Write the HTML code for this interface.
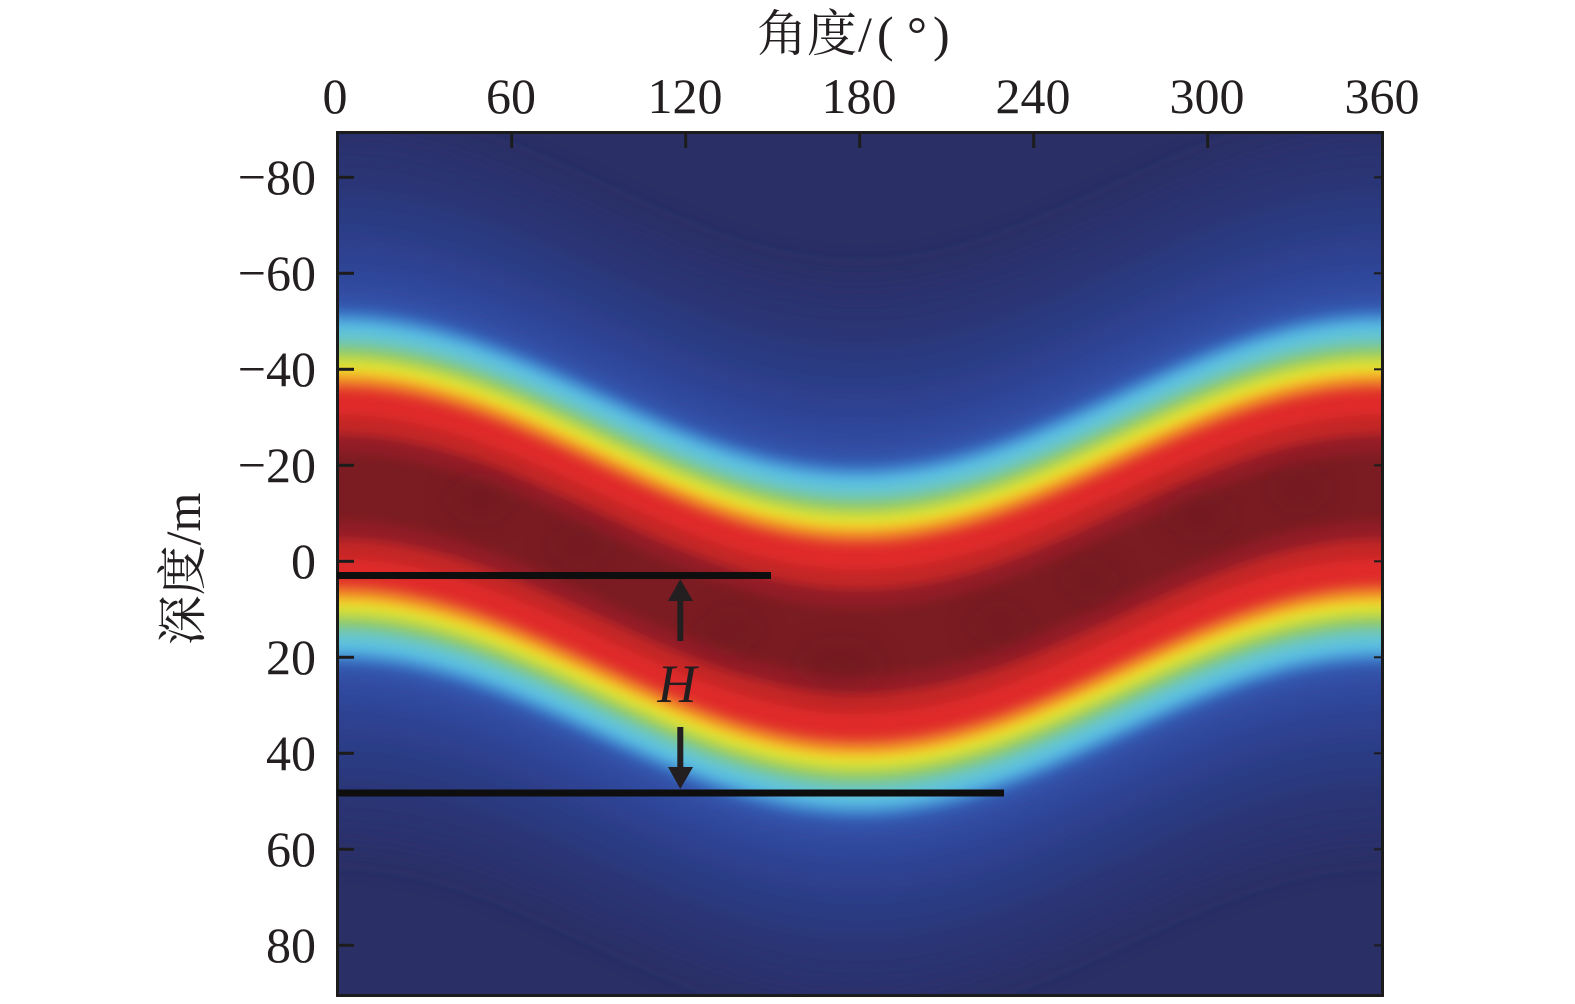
<!DOCTYPE html>
<html>
<head>
<meta charset="utf-8">
<style>
html,body{margin:0;padding:0;background:#fff;width:1575px;height:1004px;overflow:hidden;}
svg{display:block}
</style>
</head>
<body>
<svg width="1575" height="1004" viewBox="0 0 1575 1004" xmlns="http://www.w3.org/2000/svg">
<defs>
<clipPath id="cp"><rect x="338" y="133" width="1044" height="863"/></clipPath>
<filter id="bl" filterUnits="userSpaceOnUse" x="0" y="0" width="1575" height="1004"><feGaussianBlur stdDeviation="5"/></filter>
<filter id="blA" filterUnits="userSpaceOnUse" x="0" y="0" width="1575" height="1004"><feGaussianBlur stdDeviation="20"/></filter>
<filter id="bl2" filterUnits="userSpaceOnUse" x="0" y="0" width="1575" height="1004"><feGaussianBlur stdDeviation="15"/></filter>
</defs>
<rect x="0" y="0" width="1575" height="1004" fill="#ffffff"/>
<g clip-path="url(#cp)">
<rect x="338" y="133" width="1044" height="863" fill="#2a2f65"/>
<g filter="url(#blA)">
<path fill="#2b326f" d="M76,209 c85.12,-39.6 166.54,-77.3 261,-77.3 c94.46,0 175.88,37.7 261,77.3 c85.12,39.6 166.54,77.3 261,77.3 c94.46,0 175.88,-37.7 261,-77.3 c85.12,-39.6 166.54,-77.3 261,-77.3 c47.23,0 91.2,9.425 134,23.8 v710.4 c-42.8,-14.375 -86.77,-23.8 -134,-23.8 c-94.46,0 -175.88,37.7 -261,77.3 c-85.12,39.6 -166.54,77.3 -261,77.3 c-94.46,0 -175.88,-37.7 -261,-77.3 c-85.12,-39.6 -166.54,-77.3 -261,-77.3 c-94.46,0 -175.88,37.7 -261,77.3 Z"/>
<path fill="#2b3576" d="M76,237.8 c85.12,-39.6 166.54,-77.3 261,-77.3 c94.46,0 175.88,37.7 261,77.3 c85.12,39.6 166.54,77.3 261,77.3 c94.46,0 175.88,-37.7 261,-77.3 c85.12,-39.6 166.54,-77.3 261,-77.3 c47.23,0 91.2,9.425 134,23.8 v652.8 c-42.8,-14.375 -86.77,-23.8 -134,-23.8 c-94.46,0 -175.88,37.7 -261,77.3 c-85.12,39.6 -166.54,77.3 -261,77.3 c-94.46,0 -175.88,-37.7 -261,-77.3 c-85.12,-39.6 -166.54,-77.3 -261,-77.3 c-94.46,0 -175.88,37.7 -261,77.3 Z"/>
<path fill="#2c3a82" d="M76,276.2 c85.12,-39.6 166.54,-77.3 261,-77.3 c94.46,0 175.88,37.7 261,77.3 c85.12,39.6 166.54,77.3 261,77.3 c94.46,0 175.88,-37.7 261,-77.3 c85.12,-39.6 166.54,-77.3 261,-77.3 c47.23,0 91.2,9.425 134,23.8 v576 c-42.8,-14.375 -86.77,-23.8 -134,-23.8 c-94.46,0 -175.88,37.7 -261,77.3 c-85.12,39.6 -166.54,77.3 -261,77.3 c-94.46,0 -175.88,-37.7 -261,-77.3 c-85.12,-39.6 -166.54,-77.3 -261,-77.3 c-94.46,0 -175.88,37.7 -261,77.3 Z"/>
<path fill="#2d3f8e" d="M76,309.8 c85.12,-39.6 166.54,-77.3 261,-77.3 c94.46,0 175.88,37.7 261,77.3 c85.12,39.6 166.54,77.3 261,77.3 c94.46,0 175.88,-37.7 261,-77.3 c85.12,-39.6 166.54,-77.3 261,-77.3 c47.23,0 91.2,9.425 134,23.8 v508.8 c-42.8,-14.375 -86.77,-23.8 -134,-23.8 c-94.46,0 -175.88,37.7 -261,77.3 c-85.12,39.6 -166.54,77.3 -261,77.3 c-94.46,0 -175.88,-37.7 -261,-77.3 c-85.12,-39.6 -166.54,-77.3 -261,-77.3 c-94.46,0 -175.88,37.7 -261,77.3 Z"/>
<path fill="#2e4598" d="M76,338.6 c85.12,-39.6 166.54,-77.3 261,-77.3 c94.46,0 175.88,37.7 261,77.3 c85.12,39.6 166.54,77.3 261,77.3 c94.46,0 175.88,-37.7 261,-77.3 c85.12,-39.6 166.54,-77.3 261,-77.3 c47.23,0 91.2,9.425 134,23.8 v451.2 c-42.8,-14.375 -86.77,-23.8 -134,-23.8 c-94.46,0 -175.88,37.7 -261,77.3 c-85.12,39.6 -166.54,77.3 -261,77.3 c-94.46,0 -175.88,-37.7 -261,-77.3 c-85.12,-39.6 -166.54,-77.3 -261,-77.3 c-94.46,0 -175.88,37.7 -261,77.3 Z"/>
<path fill="#304ca2" d="M76,362.6 c85.12,-39.6 166.54,-77.3 261,-77.3 c94.46,0 175.88,37.7 261,77.3 c85.12,39.6 166.54,77.3 261,77.3 c94.46,0 175.88,-37.7 261,-77.3 c85.12,-39.6 166.54,-77.3 261,-77.3 c47.23,0 91.2,9.425 134,23.8 v403.2 c-42.8,-14.375 -86.77,-23.8 -134,-23.8 c-94.46,0 -175.88,37.7 -261,77.3 c-85.12,39.6 -166.54,77.3 -261,77.3 c-94.46,0 -175.88,-37.7 -261,-77.3 c-85.12,-39.6 -166.54,-77.3 -261,-77.3 c-94.46,0 -175.88,37.7 -261,77.3 Z"/>
<path fill="#3356ae" d="M76,377 c85.12,-39.6 166.54,-77.3 261,-77.3 c94.46,0 175.88,37.7 261,77.3 c85.12,39.6 166.54,77.3 261,77.3 c94.46,0 175.88,-37.7 261,-77.3 c85.12,-39.6 166.54,-77.3 261,-77.3 c47.23,0 91.2,9.425 134,23.8 v374.4 c-42.8,-14.375 -86.77,-23.8 -134,-23.8 c-94.46,0 -175.88,37.7 -261,77.3 c-85.12,39.6 -166.54,77.3 -261,77.3 c-94.46,0 -175.88,-37.7 -261,-77.3 c-85.12,-39.6 -166.54,-77.3 -261,-77.3 c-94.46,0 -175.88,37.7 -261,77.3 Z"/>
</g>
<g filter="url(#bl)">
<path fill="#3356ae" opacity="0.6" d="M76,377 c85.12,-39.6 166.54,-77.3 261,-77.3 c94.46,0 175.88,37.7 261,77.3 c85.12,39.6 166.54,77.3 261,77.3 c94.46,0 175.88,-37.7 261,-77.3 c85.12,-39.6 166.54,-77.3 261,-77.3 c47.23,0 91.2,9.425 134,23.8 v374.4 c-42.8,-14.375 -86.77,-23.8 -134,-23.8 c-94.46,0 -175.88,37.7 -261,77.3 c-85.12,39.6 -166.54,77.3 -261,77.3 c-94.46,0 -175.88,-37.7 -261,-77.3 c-85.12,-39.6 -166.54,-77.3 -261,-77.3 c-94.46,0 -175.88,37.7 -261,77.3 Z"/>
<path fill="#3a72c4" d="M76,386.6 c85.12,-39.6 166.54,-77.3 261,-77.3 c94.46,0 175.88,37.7 261,77.3 c85.12,39.6 166.54,77.3 261,77.3 c94.46,0 175.88,-37.7 261,-77.3 c85.12,-39.6 166.54,-77.3 261,-77.3 c47.23,0 91.2,9.425 134,23.8 v355.2 c-42.8,-14.375 -86.77,-23.8 -134,-23.8 c-94.46,0 -175.88,37.7 -261,77.3 c-85.12,39.6 -166.54,77.3 -261,77.3 c-94.46,0 -175.88,-37.7 -261,-77.3 c-85.12,-39.6 -166.54,-77.3 -261,-77.3 c-94.46,0 -175.88,37.7 -261,77.3 Z"/>
<path fill="#4a9ad8" d="M76,393.8 c85.12,-39.6 166.54,-77.3 261,-77.3 c94.46,0 175.88,37.7 261,77.3 c85.12,39.6 166.54,77.3 261,77.3 c94.46,0 175.88,-37.7 261,-77.3 c85.12,-39.6 166.54,-77.3 261,-77.3 c47.23,0 91.2,9.425 134,23.8 v340.8 c-42.8,-14.375 -86.77,-23.8 -134,-23.8 c-94.46,0 -175.88,37.7 -261,77.3 c-85.12,39.6 -166.54,77.3 -261,77.3 c-94.46,0 -175.88,-37.7 -261,-77.3 c-85.12,-39.6 -166.54,-77.3 -261,-77.3 c-94.46,0 -175.88,37.7 -261,77.3 Z"/>
<path fill="#5cc0e2" d="M76,401 c85.12,-39.6 166.54,-77.3 261,-77.3 c94.46,0 175.88,37.7 261,77.3 c85.12,39.6 166.54,77.3 261,77.3 c94.46,0 175.88,-37.7 261,-77.3 c85.12,-39.6 166.54,-77.3 261,-77.3 c47.23,0 91.2,9.425 134,23.8 v326.4 c-42.8,-14.375 -86.77,-23.8 -134,-23.8 c-94.46,0 -175.88,37.7 -261,77.3 c-85.12,39.6 -166.54,77.3 -261,77.3 c-94.46,0 -175.88,-37.7 -261,-77.3 c-85.12,-39.6 -166.54,-77.3 -261,-77.3 c-94.46,0 -175.88,37.7 -261,77.3 Z"/>
<path fill="#68c6c8" d="M76,410.6 c85.12,-39.6 166.54,-77.3 261,-77.3 c94.46,0 175.88,37.7 261,77.3 c85.12,39.6 166.54,77.3 261,77.3 c94.46,0 175.88,-37.7 261,-77.3 c85.12,-39.6 166.54,-77.3 261,-77.3 c47.23,0 91.2,9.425 134,23.8 v307.2 c-42.8,-14.375 -86.77,-23.8 -134,-23.8 c-94.46,0 -175.88,37.7 -261,77.3 c-85.12,39.6 -166.54,77.3 -261,77.3 c-94.46,0 -175.88,-37.7 -261,-77.3 c-85.12,-39.6 -166.54,-77.3 -261,-77.3 c-94.46,0 -175.88,37.7 -261,77.3 Z"/>
<path fill="#7cc88a" d="M76,420.2 c85.12,-39.6 166.54,-77.3 261,-77.3 c94.46,0 175.88,37.7 261,77.3 c85.12,39.6 166.54,77.3 261,77.3 c94.46,0 175.88,-37.7 261,-77.3 c85.12,-39.6 166.54,-77.3 261,-77.3 c47.23,0 91.2,9.425 134,23.8 v288 c-42.8,-14.375 -86.77,-23.8 -134,-23.8 c-94.46,0 -175.88,37.7 -261,77.3 c-85.12,39.6 -166.54,77.3 -261,77.3 c-94.46,0 -175.88,-37.7 -261,-77.3 c-85.12,-39.6 -166.54,-77.3 -261,-77.3 c-94.46,0 -175.88,37.7 -261,77.3 Z"/>
<path fill="#9acc5c" d="M76,427.4 c85.12,-39.6 166.54,-77.3 261,-77.3 c94.46,0 175.88,37.7 261,77.3 c85.12,39.6 166.54,77.3 261,77.3 c94.46,0 175.88,-37.7 261,-77.3 c85.12,-39.6 166.54,-77.3 261,-77.3 c47.23,0 91.2,9.425 134,23.8 v273.6 c-42.8,-14.375 -86.77,-23.8 -134,-23.8 c-94.46,0 -175.88,37.7 -261,77.3 c-85.12,39.6 -166.54,77.3 -261,77.3 c-94.46,0 -175.88,-37.7 -261,-77.3 c-85.12,-39.6 -166.54,-77.3 -261,-77.3 c-94.46,0 -175.88,37.7 -261,77.3 Z"/>
<path fill="#c8dc3c" d="M76,434.6 c85.12,-39.6 166.54,-77.3 261,-77.3 c94.46,0 175.88,37.7 261,77.3 c85.12,39.6 166.54,77.3 261,77.3 c94.46,0 175.88,-37.7 261,-77.3 c85.12,-39.6 166.54,-77.3 261,-77.3 c47.23,0 91.2,9.425 134,23.8 v259.2 c-42.8,-14.375 -86.77,-23.8 -134,-23.8 c-94.46,0 -175.88,37.7 -261,77.3 c-85.12,39.6 -166.54,77.3 -261,77.3 c-94.46,0 -175.88,-37.7 -261,-77.3 c-85.12,-39.6 -166.54,-77.3 -261,-77.3 c-94.46,0 -175.88,37.7 -261,77.3 Z"/>
<path fill="#e8e42c" d="M76,441.8 c85.12,-39.6 166.54,-77.3 261,-77.3 c94.46,0 175.88,37.7 261,77.3 c85.12,39.6 166.54,77.3 261,77.3 c94.46,0 175.88,-37.7 261,-77.3 c85.12,-39.6 166.54,-77.3 261,-77.3 c47.23,0 91.2,9.425 134,23.8 v244.8 c-42.8,-14.375 -86.77,-23.8 -134,-23.8 c-94.46,0 -175.88,37.7 -261,77.3 c-85.12,39.6 -166.54,77.3 -261,77.3 c-94.46,0 -175.88,-37.7 -261,-77.3 c-85.12,-39.6 -166.54,-77.3 -261,-77.3 c-94.46,0 -175.88,37.7 -261,77.3 Z"/>
<path fill="#f4bc2a" d="M76,448 c85.12,-39.6 166.54,-77.3 261,-77.3 c94.46,0 175.88,37.7 261,77.3 c85.12,39.6 166.54,77.3 261,77.3 c94.46,0 175.88,-37.7 261,-77.3 c85.12,-39.6 166.54,-77.3 261,-77.3 c47.23,0 91.2,9.425 134,23.8 v232.4 c-42.8,-14.375 -86.77,-23.8 -134,-23.8 c-94.46,0 -175.88,37.7 -261,77.3 c-85.12,39.6 -166.54,77.3 -261,77.3 c-94.46,0 -175.88,-37.7 -261,-77.3 c-85.12,-39.6 -166.54,-77.3 -261,-77.3 c-94.46,0 -175.88,37.7 -261,77.3 Z"/>
<path fill="#f08a28" d="M76,453.8 c85.12,-39.6 166.54,-77.3 261,-77.3 c94.46,0 175.88,37.7 261,77.3 c85.12,39.6 166.54,77.3 261,77.3 c94.46,0 175.88,-37.7 261,-77.3 c85.12,-39.6 166.54,-77.3 261,-77.3 c47.23,0 91.2,9.425 134,23.8 v220.8 c-42.8,-14.375 -86.77,-23.8 -134,-23.8 c-94.46,0 -175.88,37.7 -261,77.3 c-85.12,39.6 -166.54,77.3 -261,77.3 c-94.46,0 -175.88,-37.7 -261,-77.3 c-85.12,-39.6 -166.54,-77.3 -261,-77.3 c-94.46,0 -175.88,37.7 -261,77.3 Z"/>
<path fill="#e6482a" d="M76,461 c85.12,-39.6 166.54,-77.3 261,-77.3 c94.46,0 175.88,37.7 261,77.3 c85.12,39.6 166.54,77.3 261,77.3 c94.46,0 175.88,-37.7 261,-77.3 c85.12,-39.6 166.54,-77.3 261,-77.3 c47.23,0 91.2,9.425 134,23.8 v206.4 c-42.8,-14.375 -86.77,-23.8 -134,-23.8 c-94.46,0 -175.88,37.7 -261,77.3 c-85.12,39.6 -166.54,77.3 -261,77.3 c-94.46,0 -175.88,-37.7 -261,-77.3 c-85.12,-39.6 -166.54,-77.3 -261,-77.3 c-94.46,0 -175.88,37.7 -261,77.3 Z"/>
<path fill="#e02a2a" d="M76,468.2 c85.12,-39.6 166.54,-77.3 261,-77.3 c94.46,0 175.88,37.7 261,77.3 c85.12,39.6 166.54,77.3 261,77.3 c94.46,0 175.88,-37.7 261,-77.3 c85.12,-39.6 166.54,-77.3 261,-77.3 c47.23,0 91.2,9.425 134,23.8 v192 c-42.8,-14.375 -86.77,-23.8 -134,-23.8 c-94.46,0 -175.88,37.7 -261,77.3 c-85.12,39.6 -166.54,77.3 -261,77.3 c-94.46,0 -175.88,-37.7 -261,-77.3 c-85.12,-39.6 -166.54,-77.3 -261,-77.3 c-94.46,0 -175.88,37.7 -261,77.3 Z"/>
<path fill="#c42528" d="M76,492.2 c85.12,-39.6 166.54,-77.3 261,-77.3 c94.46,0 175.88,37.7 261,77.3 c85.12,39.6 166.54,77.3 261,77.3 c94.46,0 175.88,-37.7 261,-77.3 c85.12,-39.6 166.54,-77.3 261,-77.3 c47.23,0 91.2,9.425 134,23.8 v144 c-42.8,-14.375 -86.77,-23.8 -134,-23.8 c-94.46,0 -175.88,37.7 -261,77.3 c-85.12,39.6 -166.54,77.3 -261,77.3 c-94.46,0 -175.88,-37.7 -261,-77.3 c-85.12,-39.6 -166.54,-77.3 -261,-77.3 c-94.46,0 -175.88,37.7 -261,77.3 Z"/>
<path fill="#921f26" d="M76,511.4 c85.12,-39.6 166.54,-77.3 261,-77.3 c94.46,0 175.88,37.7 261,77.3 c85.12,39.6 166.54,77.3 261,77.3 c94.46,0 175.88,-37.7 261,-77.3 c85.12,-39.6 166.54,-77.3 261,-77.3 c47.23,0 91.2,9.425 134,23.8 v105.6 c-42.8,-14.375 -86.77,-23.8 -134,-23.8 c-94.46,0 -175.88,37.7 -261,77.3 c-85.12,39.6 -166.54,77.3 -261,77.3 c-94.46,0 -175.88,-37.7 -261,-77.3 c-85.12,-39.6 -166.54,-77.3 -261,-77.3 c-94.46,0 -175.88,37.7 -261,77.3 Z"/>
<path fill="#7a1b23" d="M76,530.6 c85.12,-39.6 166.54,-77.3 261,-77.3 c94.46,0 175.88,37.7 261,77.3 c85.12,39.6 166.54,77.3 261,77.3 c94.46,0 175.88,-37.7 261,-77.3 c85.12,-39.6 166.54,-77.3 261,-77.3 c47.23,0 91.2,9.425 134,23.8 v67.2 c-42.8,-14.375 -86.77,-23.8 -134,-23.8 c-94.46,0 -175.88,37.7 -261,77.3 c-85.12,39.6 -166.54,77.3 -261,77.3 c-94.46,0 -175.88,-37.7 -261,-77.3 c-85.12,-39.6 -166.54,-77.3 -261,-77.3 c-94.46,0 -175.88,37.7 -261,77.3 Z"/>
</g>
<g filter="url(#bl2)" fill="#66141c" opacity="0.35">
<ellipse cx="480" cy="500" rx="30" ry="18"/>
<ellipse cx="580" cy="545" rx="28" ry="16"/>
<ellipse cx="730" cy="630" rx="30" ry="16"/>
<ellipse cx="840" cy="665" rx="40" ry="20"/>
<ellipse cx="1000" cy="625" rx="28" ry="16"/>
<ellipse cx="1090" cy="580" rx="28" ry="14"/>
<ellipse cx="1200" cy="515" rx="34" ry="18"/>
<ellipse cx="1300" cy="490" rx="30" ry="16"/>
</g>
</g>

<!-- frame -->
<rect x="337.5" y="132.5" width="1045" height="863" fill="none" stroke="#1c1c1c" stroke-width="3"/>

<!-- ticks -->
<g stroke="#1c1c1c" stroke-width="3">
<line x1="511.7" y1="134" x2="511.7" y2="148"/>
<line x1="685.7" y1="134" x2="685.7" y2="148"/>
<line x1="859.7" y1="134" x2="859.7" y2="148"/>
<line x1="1033.7" y1="134" x2="1033.7" y2="148"/>
<line x1="1207.7" y1="134" x2="1207.7" y2="148"/>
<line x1="339" y1="177.3" x2="354" y2="177.3"/>
<line x1="339" y1="273.3" x2="354" y2="273.3"/>
<line x1="339" y1="369.3" x2="354" y2="369.3"/>
<line x1="339" y1="465.3" x2="354" y2="465.3"/>
<line x1="339" y1="561.3" x2="354" y2="561.3"/>
<line x1="339" y1="657.3" x2="354" y2="657.3"/>
<line x1="339" y1="753.3" x2="354" y2="753.3"/>
<line x1="339" y1="849.3" x2="354" y2="849.3"/>
<line x1="339" y1="945.3" x2="354" y2="945.3"/>
</g>
<g stroke="#1c1c1c" stroke-width="2">
<line x1="1381" y1="177.3" x2="1374" y2="177.3"/>
<line x1="1381" y1="273.3" x2="1374" y2="273.3"/>
<line x1="1381" y1="369.3" x2="1374" y2="369.3"/>
<line x1="1381" y1="465.3" x2="1374" y2="465.3"/>
<line x1="1381" y1="561.3" x2="1374" y2="561.3"/>
<line x1="1381" y1="657.3" x2="1374" y2="657.3"/>
<line x1="1381" y1="753.3" x2="1374" y2="753.3"/>
<line x1="1381" y1="849.3" x2="1374" y2="849.3"/>
<line x1="1381" y1="945.3" x2="1374" y2="945.3"/>
</g>

<!-- H annotation lines & arrows -->
<rect x="337" y="572" width="434" height="7" fill="#0e0e0e"/>
<rect x="337" y="789.5" width="667" height="7" fill="#0e0e0e"/>
<g fill="#231f20">
<path d="M680.3,579 L693,601 L668,601 Z"/>
<rect x="677.3" y="600" width="6" height="41"/>
<rect x="677.3" y="727" width="6" height="41"/>
<path d="M668,767 L693,767 L680.3,789 Z"/>
</g>
<text x="677" y="702" font-family="'Liberation Serif', serif" font-style="italic" font-size="54" fill="#231f20" text-anchor="middle">H</text>

<!-- x tick labels -->
<g font-family="'Liberation Serif', serif" font-size="50" fill="#231f20" text-anchor="middle">
<text x="335" y="113">0</text>
<text x="511" y="113">60</text>
<text x="685" y="113">120</text>
<text x="859" y="113">180</text>
<text x="1033" y="113">240</text>
<text x="1207" y="113">300</text>
<text x="1382" y="113">360</text>
</g>

<!-- y tick labels -->
<g font-family="'Liberation Serif', serif" font-size="50" fill="#231f20" text-anchor="end">
<text x="316" y="194">−80</text>
<text x="316" y="290">−60</text>
<text x="316" y="386">−40</text>
<text x="316" y="482">−20</text>
<text x="316" y="578">0</text>
<text x="316" y="674">20</text>
<text x="316" y="770">40</text>
<text x="316" y="866">60</text>
<text x="316" y="962">80</text>
</g>

<!-- axis titles -->
<text y="51" font-family="'Liberation Serif', 'Noto Serif CJK SC', serif" font-size="50" fill="#231f20"><tspan x="757">角度</tspan><tspan x="858">/</tspan><tspan x="877">(</tspan><tspan x="907">°</tspan><tspan x="933">)</tspan></text>
<g transform="translate(200,569) rotate(-90)">
<text x="0" y="0" font-family="'Liberation Serif', 'Noto Serif CJK SC', serif" font-size="50" fill="#231f20" text-anchor="middle">深度/m</text>
</g>
</svg>
</body>
</html>
